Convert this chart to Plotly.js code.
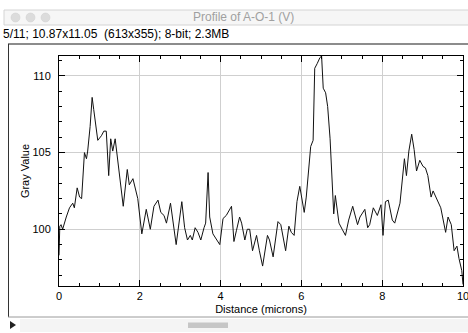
<!DOCTYPE html>
<html><head><meta charset="utf-8">
<script src="https://cdn.plot.ly/plotly-3.0.1.min.js"></script>
<style>html,body{margin:0;padding:0;background:#fff;}#chart{width:468px;height:333px;}</style>
</head><body><div id="chart"></div>
<script>
// Profile data (distance in microns, gray value)
const distance = [0,0.02,0.05,0.09,0.18,0.26,0.34,0.38,0.45,0.51,0.56,0.63,0.68,0.71,0.77,0.82,0.86,0.96,1.05,1.11,1.17,1.23,1.28,1.33,1.39,1.50,1.59,1.69,1.74,1.83,1.95,2.05,2.16,2.26,2.35,2.45,2.52,2.60,2.66,2.76,2.85,2.90,3.04,3.11,3.18,3.25,3.30,3.37,3.44,3.51,3.59,3.63,3.69,3.73,3.81,3.90,3.98,4.06,4.14,4.27,4.33,4.39,4.47,4.52,4.60,4.66,4.72,4.79,4.89,4.96,5.04,5.16,5.21,5.30,5.42,5.49,5.55,5.61,5.69,5.75,5.82,5.89,5.96,6.02,6.07,6.12,6.18,6.23,6.29,6.33,6.39,6.46,6.50,6.54,6.60,6.65,6.71,6.75,6.80,6.84,6.87,6.93,7.01,7.09,7.17,7.27,7.34,7.39,7.45,7.57,7.64,7.69,7.78,7.88,7.97,8.02,8.08,8.15,8.25,8.31,8.44,8.55,8.60,8.66,8.73,8.79,8.85,8.93,9.01,9.07,9.13,9.21,9.26,9.37,9.45,9.57,9.63,9.71,9.78,9.85,9.90,9.97,10.0];
const grayValue = [98.3,100.2,100.3,100.0,100.8,101.4,101.7,101.4,102.7,102.1,102.0,105.0,104.6,105.1,106.7,108.6,107.8,105.8,106.1,106.4,106.4,103.5,105.9,105.1,105.9,103.4,101.5,103.9,102.9,103.3,102.0,99.7,101.3,100.0,101.5,101.9,101.1,100.9,100.4,101.7,99.8,99.0,101.8,100.1,99.3,99.6,99.3,100.1,99.8,99.3,100.1,100.4,103.7,100.8,99.7,99.3,99.0,100.7,100.9,101.5,99.2,99.9,100.8,100.4,99.3,100.0,100.0,98.6,99.6,98.6,97.6,99.6,99.3,98.2,100.5,100.3,99.3,98.6,100.2,99.8,99.6,101.8,102.8,102.0,101.1,102.1,104.0,105.4,105.8,110.5,110.8,111.2,111.3,109.2,108.9,108.0,105.9,103.7,101.0,102.2,101.7,100.4,100.0,99.6,100.6,101.5,100.8,100.3,100.8,101.3,100.1,100.3,101.4,100.9,101.6,99.6,101.8,101.9,100.6,100.4,101.7,104.6,103.5,105.1,106.2,105.2,103.8,104.5,104.1,104.0,103.5,102.1,102.5,101.9,101.4,99.8,100.8,100.3,98.6,98.9,98.1,97.3,96.4];
const xTickVals = [0,2,4,6,8,10];
const xTickText = ["0","2","4","6","8","10"];
const yTickVals = [100,105,110];
const yTickText = ["100","105","110"];
const windowTitle = "Profile of A-O-1 (V)";
const imageInfo = "5/11; 10.87x11.05  (613x355); 8-bit; 2.3MB";

const W = 468, H = 333, ML = 59, MR = 5, MT = 56, MB = 47;
const PW = W - ML - MR, PH = H - MT - MB;
const X = px => (px - ML) / PW;
const Y = py => (H - MB - py) / PH;

const shapes = [
  // title bar
  {type:'rect', xref:'paper', yref:'paper', x0:X(4), x1:X(470), y0:Y(10), y1:Y(25), fillcolor:'#f6f6f6', line:{color:'#d4d4d4', width:1}, layer:'below'},
  {type:'circle', xref:'paper', yref:'paper', x0:X(11), x1:X(20), y0:Y(13), y1:Y(22), fillcolor:'#dcdcdc', line:{color:'#cfcfcf', width:0.5}},
  {type:'circle', xref:'paper', yref:'paper', x0:X(26), x1:X(35), y0:Y(13), y1:Y(22), fillcolor:'#dcdcdc', line:{color:'#cfcfcf', width:0.5}},
  {type:'circle', xref:'paper', yref:'paper', x0:X(41), x1:X(50), y0:Y(13), y1:Y(22), fillcolor:'#dcdcdc', line:{color:'#cfcfcf', width:0.5}},
  // canvas frame
  {type:'line', xref:'paper', yref:'paper', x0:X(8), x1:X(470), y0:Y(44), y1:Y(44), line:{color:'#8c8c8c', width:2}},
  {type:'line', xref:'paper', yref:'paper', x0:X(8.5), x1:X(8.5), y0:Y(44), y1:Y(317), line:{color:'#333', width:1}},
  {type:'line', xref:'paper', yref:'paper', x0:X(8), x1:X(470), y0:Y(317), y1:Y(317), line:{color:'#9a9a9a', width:1}},
  // scroll bar
  {type:'rect', xref:'paper', yref:'paper', x0:X(20), x1:X(470), y0:Y(319), y1:Y(332), fillcolor:'#f4f4f4', line:{width:0}},
  {type:'rect', xref:'paper', yref:'paper', x0:X(188), x1:X(228), y0:Y(322.5), y1:Y(328), fillcolor:'#c6c6c6', line:{width:0}},
  {type:'path', xref:'paper', yref:'paper', path:`M ${X(10)} ${Y(321)} L ${X(10)} ${Y(329)} L ${X(16)} ${Y(325)} Z`, fillcolor:'#222', line:{width:0}}
];

const annotations = [
  {xref:'paper', yref:'paper', x:X(243), y:Y(17), text:windowTitle, showarrow:false, xanchor:'center', yanchor:'middle', font:{family:'Liberation Sans, Arial', size:12, color:'#a0a0a0'}},
  {xref:'paper', yref:'paper', x:X(1), y:Y(34), text:imageInfo, showarrow:false, xanchor:'left', yanchor:'middle', font:{family:'Liberation Sans, Arial', size:12, color:'#000'}}
];

const trace = {x:distance, y:grayValue, type:'scatter', mode:'lines', line:{color:'#111', width:1}, hoverinfo:'skip'};

const font = {family:'Liberation Sans, Arial, sans-serif', size:11, color:'#000'};
const layout = {
  width:W, height:H, margin:{l:ML, r:MR, t:MT, b:MB, pad:0},
  paper_bgcolor:'#fff', plot_bgcolor:'#fff', showlegend:false, font:font,
  xaxis:{range:[0,10], tickvals:xTickVals, ticktext:xTickText, ticks:'inside', ticklen:6, tickwidth:1, tickcolor:'#000',
    showline:true, linecolor:'#000', linewidth:1, mirror:'ticks', showgrid:true, gridcolor:'#cfcfcf', gridwidth:1, zeroline:false,
    minor:{dtick:0.5, tick0:0, ticks:'inside', ticklen:3, tickcolor:'#000', showgrid:false},
    ticklabeloverflow:'allow',
    tickfont:font, title:{text:'Distance (microns)', font:font, standoff:4}, automargin:false, fixedrange:true},
  yaxis:{range:[96.3,111.3], tickvals:yTickVals, ticktext:yTickText, ticks:'inside', ticklen:6, tickwidth:1, tickcolor:'#000',
    showline:true, linecolor:'#000', linewidth:1, mirror:'ticks', showgrid:true, gridcolor:'#cfcfcf', gridwidth:1, zeroline:false,
    minor:{dtick:1, tick0:96, ticks:'inside', ticklen:3, tickcolor:'#000', showgrid:false},
    tickfont:font, ticklabelstandoff:5, title:{text:'Gray Value', font:font, standoff:0}, automargin:false, fixedrange:true},
  shapes:shapes, annotations:annotations
};
Plotly.newPlot('chart', [trace], layout, {displayModeBar:false, staticPlot:true});
</script></body></html>
